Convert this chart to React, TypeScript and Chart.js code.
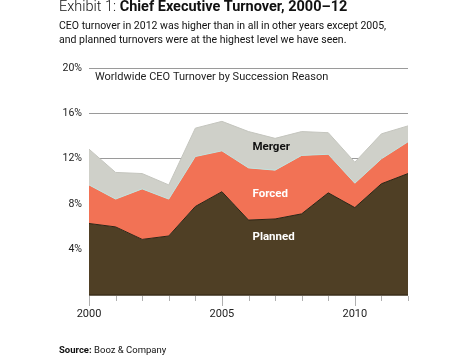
import React, { useEffect, useRef } from "react";
import { Chart, registerables } from "chart.js";

Chart.register(...registerables);

const years = [2000, 2001, 2002, 2003, 2004, 2005, 2006, 2007, 2008, 2009, 2010, 2011, 2012];
const planned = [6.3, 6.0, 4.9, 5.2, 7.8, 9.1, 6.6, 6.7, 7.15, 9.0, 7.7, 9.8, 10.7];
const forced = [3.4, 2.45, 4.45, 3.25, 4.4, 3.6, 4.6, 4.3, 5.15, 3.4, 2.15, 2.2, 2.8];
const merger = [3.15, 2.35, 1.35, 1.25, 2.5, 2.6, 3.2, 2.8, 2.1, 1.9, 1.85, 2.2, 1.4];
const labeledYears = [2000, 2005, 2010];
const yTicks = [4, 8, 12, 16, 20];

const FONT = "Roboto, 'DejaVu Sans', sans-serif";

const overlayPlugin = {
  id: "overlay",
  afterDraw(chart: any) {
    const { ctx, chartArea, scales } = chart;
    const x = scales.x;
    const y = scales.y;
    ctx.save();
    // bottom axis line
    ctx.strokeStyle = "#3a2e1a";
    ctx.lineWidth = 1.5;
    ctx.beginPath();
    ctx.moveTo(chartArea.left, chartArea.bottom);
    ctx.lineTo(chartArea.right, chartArea.bottom);
    ctx.stroke();
    // tick marks
    ctx.strokeStyle = "#b0b0b0";
    ctx.lineWidth = 1;
    years.forEach((yr) => {
      const px = Math.round(x.getPixelForValue(yr)) + 0.5;
      const len = labeledYears.includes(yr) ? 10 : 5;
      ctx.beginPath();
      ctx.moveTo(px, chartArea.bottom + 1);
      ctx.lineTo(px, chartArea.bottom + 1 + len);
      ctx.stroke();
    });
    // in-chart title
    ctx.fillStyle = "#222";
    ctx.font = `11px ${FONT}`;
    ctx.textAlign = "left";
    ctx.textBaseline = "middle";
    ctx.fillText("Worldwide CEO Turnover by Succession Reason", chartArea.left + 6, y.getPixelForValue(20) + 9);
    // series labels
    ctx.font = `bold 11.5px ${FONT}`;
    const lx = x.getPixelForValue(2006.15);
    ctx.fillStyle = "#111";
    ctx.fillText("Merger", lx, y.getPixelForValue(13.0));
    ctx.fillStyle = "#fff";
    ctx.fillText("Forced", lx, y.getPixelForValue(8.9));
    ctx.fillText("Planned", lx, y.getPixelForValue(5.1));
    ctx.restore();
  },
};

export default function App() {
  const ref = useRef<HTMLCanvasElement>(null);
  useEffect(() => {
    if (!ref.current) return;
    const mk = (arr: number[]) => years.map((yr, i) => ({ x: yr, y: arr[i] }));
    const chart = new Chart(ref.current, {
      type: "line",
      data: {
        datasets: [
          {
            label: "Planned",
            data: mk(planned),
            backgroundColor: "#4f3f25",
            borderColor: "#2e2414",
            borderWidth: 1,
            fill: "origin",
            pointRadius: 0,
            tension: 0,
          },
          {
            label: "Forced",
            data: mk(forced),
            backgroundColor: "#f27255",
            borderColor: "#bfe3df",
            borderWidth: 1,
            fill: "-1",
            pointRadius: 0,
            tension: 0,
          },
          {
            label: "Merger",
            data: mk(merger),
            backgroundColor: "#cfd0c9",
            borderColor: "#c4c5be",
            borderWidth: 1,
            fill: "-1",
            pointRadius: 0,
            tension: 0,
          },
        ],
      },
      options: {
        responsive: false,
        animation: false,
        events: [],
        layout: { padding: { top: 68, right: 60, left: 0, bottom: 0 } },
        plugins: { legend: { display: false }, tooltip: { enabled: false } },
        scales: {
          x: {
            type: "linear",
            min: 2000,
            max: 2012,
            grid: { display: false, drawTicks: false },
            border: { display: false },
            afterFit: (s: any) => {
              s.height = 61;
            },
            afterBuildTicks: (s: any) => {
              s.ticks = years.map((v) => ({ value: v }));
            },
            ticks: {
              autoSkip: false,
              maxRotation: 0,
              padding: 13,
              color: "#222",
              font: { family: FONT, size: 11 },
              callback: (v: any) => (labeledYears.includes(Number(v)) ? String(v) : ""),
            },
          },
          y: {
            stacked: true,
            min: 0,
            max: 20,
            z: 1,
            afterFit: (s: any) => {
              s.width = 89;
            },
            afterBuildTicks: (s: any) => {
              s.ticks = [0, ...yTicks].map((v) => ({ value: v }));
            },
            grid: {
              drawTicks: false,
              color: (c: any) => (c.tick && c.tick.value === 0 ? "rgba(0,0,0,0)" : "#9a9a9a"),
              lineWidth: 1,
            },
            border: { display: false },
            ticks: {
              padding: 7,
              color: "#222",
              font: { family: FONT, size: 10.5 },
              callback: (v: any) => (Number(v) === 0 ? "" : v + "%"),
            },
          },
        },
      },
      plugins: [overlayPlugin],
    });
    return () => chart.destroy();
  }, []);

  return (
    <div style={{ position: "fixed", left: 0, top: 0, width: 468, height: 356, background: "#fff", fontFamily: FONT, color: "#111" }}>
      <canvas ref={ref} width={468} height={356} style={{ position: "absolute", left: 0, top: 0 }} />
      <div style={{ position: "absolute", left: 59, top: -2, fontSize: 14.5, whiteSpace: "nowrap", lineHeight: "18px" }}>
        <span style={{ fontWeight: 300 }}>Exhibit 1: </span>
        <span style={{ fontWeight: 700 }}>Chief Executive Turnover, 2000–12</span>
      </div>
      <div style={{ position: "absolute", left: 59, top: 19, fontSize: 10.5, lineHeight: "14px", whiteSpace: "nowrap" }}>
        CEO turnover in 2012 was higher than in all in other years except 2005,
        <br />
        and planned turnovers were at the highest level we have seen.
      </div>
      <div style={{ position: "absolute", left: 59, top: 344, fontSize: 9.5, lineHeight: "12px", whiteSpace: "nowrap" }}>
        <span style={{ fontWeight: 700 }}>Source:</span> Booz &amp; Company
      </div>
    </div>
  );
}
